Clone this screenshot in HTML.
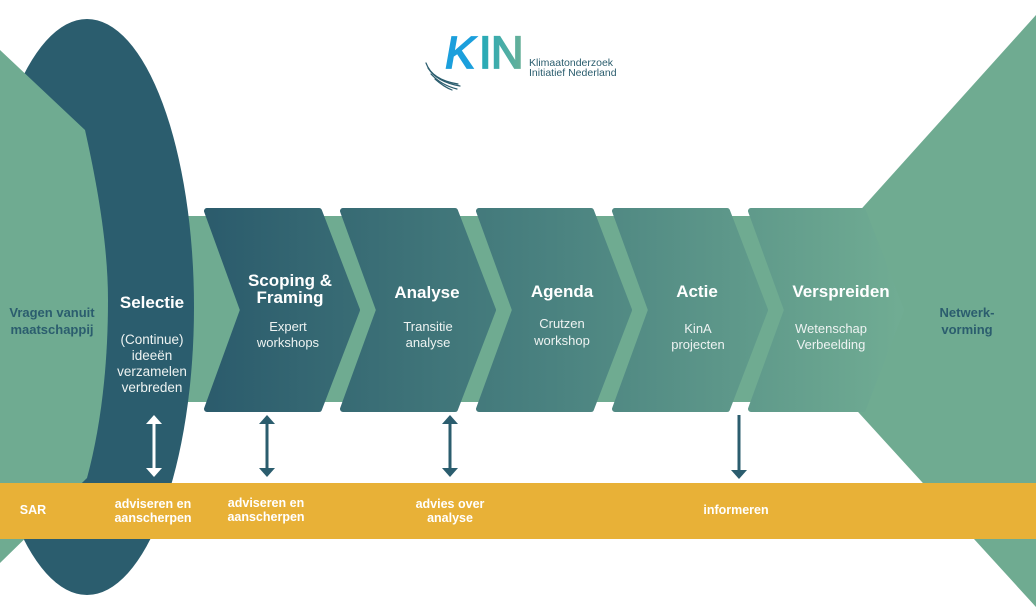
<!DOCTYPE html>
<html>
<head>
<meta charset="utf-8">
<style>
html,body{margin:0;padding:0;background:#fff;}
svg{display:block;}
text{font-family:"Liberation Sans","DejaVu Sans",sans-serif;}
</style>
</head>
<body>
<svg width="1036" height="607" viewBox="0 0 1036 607" xmlns="http://www.w3.org/2000/svg">
<defs>
<linearGradient id="chev" gradientUnits="userSpaceOnUse" x1="204" y1="0" x2="900" y2="0">
<stop offset="0" stop-color="#2b5b6c"/>
<stop offset="0.5" stop-color="#4a8280"/>
<stop offset="1" stop-color="#70ac93"/>
</linearGradient>
<linearGradient id="kin" gradientUnits="userSpaceOnUse" x1="438" y1="0" x2="524" y2="0">
<stop offset="0" stop-color="#1b9fdc"/>
<stop offset="0.5" stop-color="#25aab8"/>
<stop offset="1" stop-color="#6bb096"/>
</linearGradient>
</defs>

<rect x="0" y="0" width="1036" height="607" fill="#ffffff"/>

<!-- green band -->
<rect x="100" y="216" width="770" height="186" fill="#6fab91"/>

<!-- right funnel -->
<polygon points="1036,15 855,216 849,402 1036,607" fill="#6fab91"/>

<!-- dark oval -->
<ellipse cx="87" cy="307" rx="107" ry="288" fill="#2b5d6e"/>

<!-- left funnel -->
<path d="M0,50 L85,130 C95,175 108,240 108,300 C108,370 100,430 87,478 L0,563 Z" fill="#6fab91"/>

<!-- chevrons -->
<g fill="url(#chev)" stroke="url(#chev)" stroke-width="6" stroke-linejoin="round">
<polygon points="207,211 319,211 357,310 319,409 207,409 243,310"/>
<polygon points="343,211 455,211 493,310 455,409 343,409 379,310"/>
<polygon points="479,211 591,211 629,310 591,409 479,409 515,310"/>
<polygon points="615,211 727,211 765,310 727,409 615,409 651,310"/>
<polygon points="751,211 863,211 901,310 863,409 751,409 787,310"/>
</g>

<!-- arrows -->
<g fill="#ffffff">
<rect x="152.5" y="422" width="3" height="48"/>
<polygon points="154,415 162,424 146,424"/>
<polygon points="154,477 162,468 146,468"/>
</g>
<g fill="#2b5d6e">
<rect x="265.5" y="422" width="3" height="48"/>
<polygon points="267,415 275,424 259,424"/>
<polygon points="267,477 275,468 259,468"/>
<rect x="448.5" y="422" width="3" height="48"/>
<polygon points="450,415 458,424 442,424"/>
<polygon points="450,477 458,468 442,468"/>
<rect x="737.5" y="415" width="3" height="56"/>
<polygon points="739,479 747,470 731,470"/>
</g>

<!-- yellow band -->
<rect x="0" y="483" width="1036" height="56" fill="#e8b137"/>

<!-- side labels -->
<g fill="#2b5d6e" font-weight="bold" font-size="13" text-anchor="middle">
<text x="52" y="317">Vragen vanuit</text>
<text x="52" y="334">maatschappij</text>
<text x="967" y="317">Netwerk-</text>
<text x="967" y="334">vorming</text>
</g>

<!-- titles -->
<g fill="#ffffff" font-weight="bold" font-size="17" text-anchor="middle">
<text x="152" y="308">Selectie</text>
<text x="290" y="286">Scoping &amp;</text>
<text x="290" y="303">Framing</text>
<text x="427" y="298">Analyse</text>
<text x="562" y="297">Agenda</text>
<text x="697" y="297">Actie</text>
<text x="841" y="297">Verspreiden</text>
</g>

<!-- subtitles -->
<g fill="#eef3f2" font-size="13.5" text-anchor="middle">
<text x="152" y="344">(Continue)</text>
<text x="152" y="360">ideeën</text>
<text x="152" y="376">verzamelen</text>
<text x="152" y="392">verbreden</text>
</g>
<g fill="#eef3f2" font-size="13" text-anchor="middle">
<text x="288" y="331">Expert</text>
<text x="288" y="347">workshops</text>
<text x="428" y="331">Transitie</text>
<text x="428" y="347">analyse</text>
<text x="562" y="328">Crutzen</text>
<text x="562" y="345">workshop</text>
<text x="698" y="333">KinA</text>
<text x="698" y="349">projecten</text>
<text x="831" y="333">Wetenschap</text>
<text x="831" y="349">Verbeelding</text>
</g>

<!-- yellow band labels -->
<g fill="#ffffff" font-weight="bold" font-size="12.5" text-anchor="middle">
<text x="33" y="514">SAR</text>
<text x="153" y="508">adviseren en</text>
<text x="153" y="522">aanscherpen</text>
<text x="266" y="507">adviseren en</text>
<text x="266" y="521">aanscherpen</text>
<text x="450" y="508">advies over</text>
<text x="450" y="522">analyse</text>
<text x="736" y="514">informeren</text>
</g>

<!-- logo -->
<g>
<text x="0" y="0" font-size="45" fill="url(#kin)" stroke="url(#kin)" stroke-width="1.8" transform="translate(443,68) skewX(-10)">K</text>
<text x="479" y="68" font-size="45" fill="url(#kin)" stroke="url(#kin)" stroke-width="1.8">I</text>
<text x="491" y="68" font-size="45" fill="url(#kin)" stroke="url(#kin)" stroke-width="1.8">N</text>
<g fill="none" stroke="#2b5d6e" stroke-width="1.2" stroke-linecap="round">
<path d="M426,63 Q432,80 458,84"/>
<path d="M428,68 Q437,82 460,86"/>
<path d="M431,74 Q441,85 457,89"/>
<path d="M435,79 Q444,87 452,90"/>
</g>
<text x="529" y="66" font-size="10.5" fill="#2b5d6e">Klimaatonderzoek</text>
<text x="529" y="76" font-size="10.5" fill="#2b5d6e">Initiatief Nederland</text>
</g>
</svg>
</body>
</html>
